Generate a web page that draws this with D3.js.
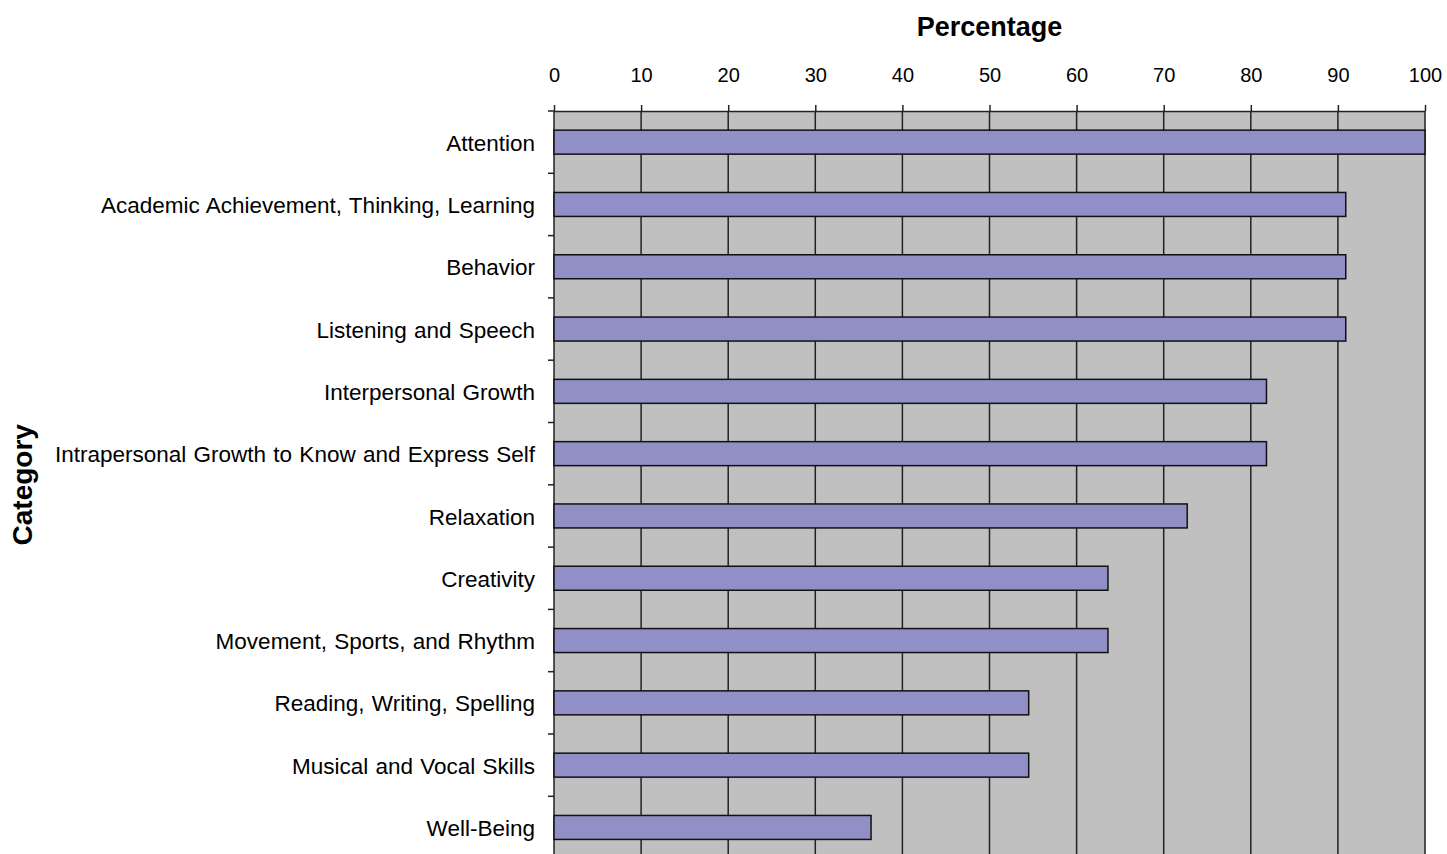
<!DOCTYPE html>
<html>
<head>
<meta charset="utf-8">
<script src="https://cdnjs.cloudflare.com/ajax/libs/d3/7.8.5/d3.min.js"></script>
<style>
  body { margin: 0; background: #fff; }
  text { font-family: "Liberation Sans", Arial, sans-serif; fill: #000; }
</style>
</head>
<body>
<div id="chart"></div>
<script>
// data
var categories = [
    "Attention",
    "Academic Achievement, Thinking, Learning",
    "Behavior",
    "Listening and Speech",
    "Interpersonal Growth",
    "Intrapersonal Growth to Know and Express Self",
    "Relaxation",
    "Creativity",
    "Movement, Sports, and Rhythm",
    "Reading, Writing, Spelling",
    "Musical and Vocal Skills",
    "Well-Being"
];
var percentages = [100, 90.9, 90.9, 90.9, 81.8, 81.8, 72.7, 63.6, 63.6, 54.5, 54.5, 36.4];
var xTicks = [0, 10, 20, 30, 40, 50, 60, 70, 80, 90, 100];

var w = 1447, h = 854;
// plot area edges (window.top is reserved, so use other names)
var plotL = 554, plotR = 1425, plotT = 111, plotB = 858.6;

var svg = d3.select("#chart").append("svg")
    .attr("width", w)
    .attr("height", h);

var xScale = d3.scaleLinear()
    .domain([0, 100])
    .range([plotL, plotR]);

var yScale = d3.scaleBand()
    .domain(categories)
    .range([plotT, plotB])
    .paddingInner(0.615)
    .paddingOuter(0.3075);

// plot background
svg.append("rect")
    .attr("x", plotL)
    .attr("y", plotT)
    .attr("width", plotR - plotL)
    .attr("height", plotB - plotT)
    .attr("fill", "#c0c0c0");

// vertical gridlines
svg.append("g")
    .selectAll("line")
    .data(xTicks.slice(1))
    .enter().append("line")
    .attr("x1", function (d) { return xScale(d); })
    .attr("x2", function (d) { return xScale(d); })
    .attr("y1", plotT)
    .attr("y2", plotB)
    .attr("stroke", "#222")
    .attr("stroke-width", 1.5);

// top axis
var xAxisTop = d3.axisTop(xScale)
    .tickValues(xTicks)
    .tickSize(6)
    .tickPadding(23)
    .tickSizeOuter(0);

var gx = svg.append("g")
    .attr("transform", "translate(0," + plotT + ")")
    .call(xAxisTop);
gx.select(".domain").attr("stroke", "#222").attr("stroke-width", 1.5);
gx.selectAll(".tick line").attr("stroke", "#222").attr("stroke-width", 1.5);
gx.selectAll(".tick text")
    .style("font-family", "'Liberation Sans', Arial, sans-serif")
    .style("font-size", "20px")
    .attr("fill", "#000");

// left axis: line plus ticks on the category boundaries
svg.append("line")
    .attr("x1", plotL).attr("x2", plotL)
    .attr("y1", plotT).attr("y2", plotB)
    .attr("stroke", "#222")
    .attr("stroke-width", 1.5);

var step = yScale.step();
svg.append("g")
    .selectAll("line")
    .data(d3.range(categories.length + 1))
    .enter().append("line")
    .attr("x1", plotL - 6)
    .attr("x2", plotL)
    .attr("y1", function (i) { return plotT + i * step; })
    .attr("y2", function (i) { return plotT + i * step; })
    .attr("stroke", "#222")
    .attr("stroke-width", 1.5);

// category labels
svg.append("g")
    .selectAll("text")
    .data(categories)
    .enter().append("text")
    .attr("x", plotL - 19)
    .attr("y", function (d) { return yScale(d) + yScale.bandwidth() / 2; })
    .attr("dy", "0.38em")
    .attr("text-anchor", "end")
    .style("font-size", "22.5px")
    .style("word-spacing", "1px")
    .text(function (d) { return d; });

// bars
svg.append("g")
    .selectAll("rect")
    .data(categories)
    .enter().append("rect")
    .attr("x", xScale(0))
    .attr("y", function (d) { return yScale(d); })
    .attr("width", function (d, i) { return xScale(percentages[i]) - xScale(0); })
    .attr("height", yScale.bandwidth())
    .attr("fill", "#9090c6")
    .attr("stroke", "#111")
    .attr("stroke-width", 1.5);

// axis titles
svg.append("text")
    .attr("x", (plotL + plotR) / 2)
    .attr("y", 36)
    .attr("text-anchor", "middle")
    .style("font-size", "27px")
    .style("font-weight", "bold")
    .text("Percentage");

svg.append("text")
    .attr("transform", "translate(32," + ((plotT + plotB) / 2) + ") rotate(-90)")
    .attr("text-anchor", "middle")
    .style("font-size", "28px")
    .style("font-weight", "bold")
    .text("Category");
</script>
</body>
</html>
